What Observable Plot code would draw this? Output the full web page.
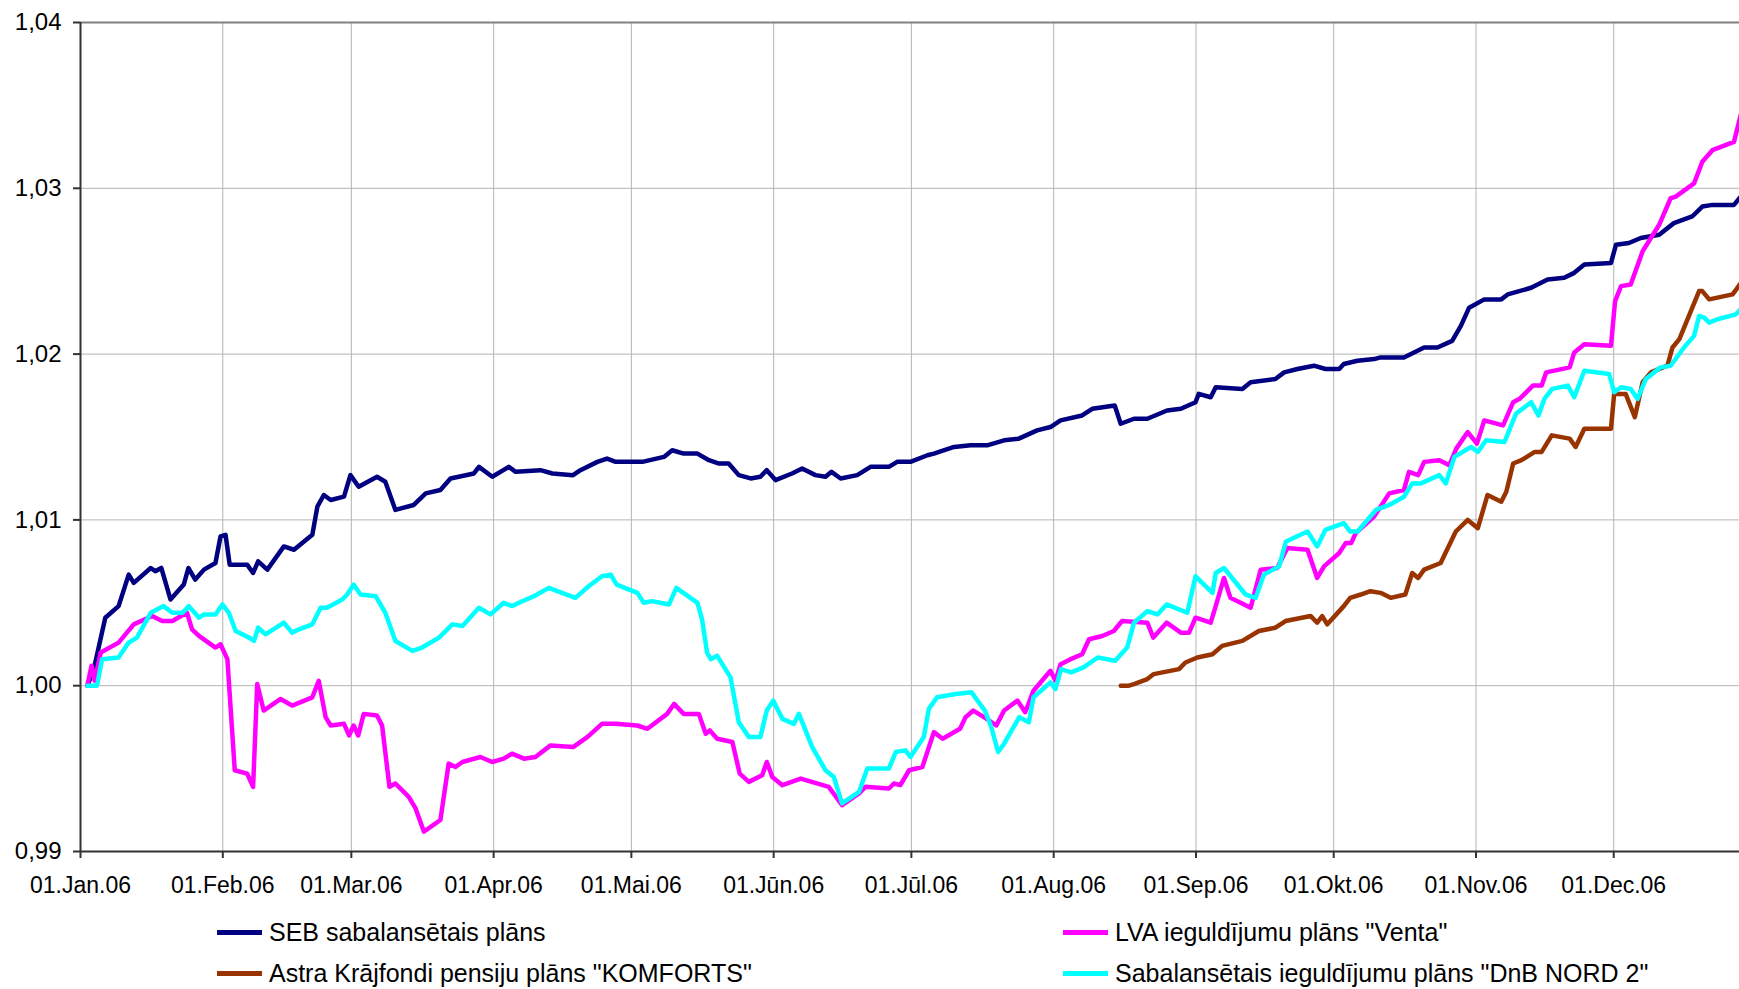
<!DOCTYPE html>
<html><head><meta charset="utf-8">
<script src="https://cdn.jsdelivr.net/npm/d3@7"></script>
<script src="https://cdn.jsdelivr.net/npm/@observablehq/plot@0.6"></script>
<style>
html,body{margin:0;padding:0;background:#fff;overflow:hidden;}
#chart{position:relative;width:1739px;height:989px;font-family:"Liberation Sans",Arial,sans-serif;}
#legend{position:absolute;left:0;top:905px;width:1739px;height:84px;}
.item{position:absolute;display:flex;align-items:center;height:30px;font-size:25px;color:#000;white-space:nowrap;}
.swatch{width:45px;height:5px;margin-right:7px;}
</style></head><body>
<div id="chart"><div id="plot"></div><div id="legend"></div></div>
<script>
// day offsets from 01.Jan.2006, fund unit value index
const seb = [[1.5,1.0000],[2.9,1.0010],[5.4,1.0041],[8.3,1.0048],[10.5,1.0067],[11.6,1.0062],[15.3,1.0071],[16.3,1.0069],[17.6,1.0071],[19.6,1.0052],[22.5,1.0061],[23.5,1.0071],[25,1.0064],[26.9,1.0070],[29.4,1.0074],[30.5,1.0090],[31.6,1.0091],[32.5,1.0073],[36.3,1.0073],[37.6,1.0068],[38.7,1.0075],[40.7,1.0070],[44.3,1.0084],[46.5,1.0082],[50.5,1.0091],[51.6,1.0108],[53,1.0115],[54.5,1.0112],[57.4,1.0114],[58.8,1.0127],[60.6,1.0120],[64.6,1.0126],[66.4,1.0123],[68.6,1.0106],[72.6,1.0109],[75.2,1.0116],[78.4,1.0118],[80.6,1.0125],[85.7,1.0128],[86.8,1.0132],[89.7,1.0126],[93.3,1.0132],[94.8,1.0129],[100.2,1.0130],[102.8,1.0128],[107.3,1.0127],[108.9,1.0130],[112.6,1.0135],[114.7,1.0137],[116.6,1.0135],[122.4,1.0135],[127.1,1.0138],[128.9,1.0142],[131.4,1.0140],[134.4,1.0140],[136.9,1.0136],[139.1,1.0134],[141.2,1.0134],[143.4,1.0127],[146,1.0125],[148.1,1.0126],[149.5,1.0130],[151.4,1.0124],[155,1.0128],[157.2,1.0131],[160.1,1.0127],[162.3,1.0126],[163.6,1.0129],[165.6,1.0125],[169.2,1.0127],[172.1,1.0132],[176.1,1.0132],[177.9,1.0135],[180.8,1.0135],[184.5,1.0139],[185.9,1.0140],[190.3,1.0144],[193.9,1.0145],[197.5,1.0145],[201.2,1.0148],[204.4,1.0149],[208.4,1.0154],[211.3,1.0156],[213.5,1.0160],[218.2,1.0163],[220.4,1.0167],[225.3,1.0169],[226.6,1.0158],[229.5,1.0161],[232.4,1.0161],[236.7,1.0166],[239.7,1.0167],[242.9,1.0171],[243.6,1.0176],[246.2,1.0174],[247.3,1.0180],[253.1,1.0179],[254.9,1.0183],[260.3,1.0185],[262.2,1.0189],[265.1,1.0191],[268.7,1.0193],[271.2,1.0191],[274.2,1.0191],[275.2,1.0194],[278.2,1.0196],[281.8,1.0197],[283.2,1.0198],[288.3,1.0198],[292.7,1.0204],[295.6,1.0204],[298.8,1.0208],[300.7,1.0217],[302.5,1.0228],[305.8,1.0233],[309.5,1.0233],[310.9,1.0236],[316,1.0240],[319.6,1.0245],[323.2,1.0246],[325.4,1.0249],[327.6,1.0254],[333.4,1.0255],[334.5,1.0266],[337.3,1.0267],[339.9,1.0270],[343.9,1.0272],[347.1,1.0279],[351.1,1.0283],[353.3,1.0289],[355.5,1.0290],[360.2,1.0290],[362,1.0296]];
const lva = [[1.5,1.0000],[2.4,1.0012],[3.1,1.0003],[4.4,1.0020],[8.3,1.0026],[11.6,1.0037],[15.6,1.0042],[17.8,1.0039],[20,1.0039],[23.2,1.0044],[24.3,1.0034],[25.8,1.0030],[29.4,1.0023],[30.5,1.0025],[32,1.0016],[33.6,0.9949],[36.3,0.9947],[37.6,0.9939],[38.5,1.0001],[39.9,0.9985],[43.6,0.9992],[46.1,0.9988],[50.5,0.9993],[51.9,1.0003],[53.4,0.9981],[54.5,0.9976],[57.4,0.9977],[58.5,0.9970],[59.5,0.9976],[60.5,0.9970],[61.7,0.9983],[64.6,0.9982],[65.7,0.9976],[67.3,0.9939],[68.6,0.9941],[71.5,0.9933],[73,0.9926],[74.8,0.9912],[78.4,0.9919],[80.2,0.9953],[81.7,0.9951],[83.2,0.9954],[87.1,0.9957],[89.7,0.9954],[92.2,0.9956],[94,0.9959],[96.6,0.9956],[99.1,0.9957],[102.4,0.9964],[107.3,0.9963],[110.4,0.9969],[113.6,0.9977],[116.6,0.9977],[121.3,0.9976],[123.5,0.9974],[127.8,0.9983],[129.3,0.9989],[131.4,0.9983],[134.7,0.9983],[136.2,0.9971],[137.1,0.9973],[138.7,0.9968],[142,0.9966],[143.6,0.9947],[145.6,0.9942],[148.5,0.9946],[149.5,0.9954],[150.7,0.9945],[152.9,0.9940],[156.9,0.9944],[163,0.9939],[165.9,0.9928],[169.6,0.9935],[171,0.9939],[176.1,0.9938],[177.2,0.9941],[178.6,0.9940],[180.5,0.9949],[183.4,0.9951],[185.9,0.9972],[187.8,0.9968],[191.6,0.9974],[192.8,0.9981],[194.5,0.9985],[197.4,0.9980],[199.5,0.9976],[201.2,0.9985],[204.1,0.9991],[205.8,0.9984],[207.6,0.9997],[211.3,1.0009],[212.4,1.0003],[213.5,1.0013],[215.7,1.0016],[218.2,1.0019],[219.7,1.0028],[222.6,1.0030],[225.1,1.0033],[226.9,1.0039],[232.4,1.0038],[233.7,1.0029],[236.6,1.0038],[239.7,1.0032],[241.5,1.0032],[242.9,1.0041],[246.2,1.0038],[247.3,1.0048],[249.1,1.0065],[250.5,1.0053],[254.9,1.0047],[257.1,1.0070],[260.7,1.0071],[262.9,1.0083],[267.3,1.0082],[269.4,1.0065],[270.9,1.0072],[274.2,1.0080],[275.6,1.0086],[276.8,1.0086],[277.8,1.0092],[281.8,1.0102],[285.1,1.0116],[288.3,1.0118],[289.4,1.0129],[291.4,1.0127],[292.7,1.0135],[296,1.0136],[298.2,1.0133],[299.7,1.0143],[302.2,1.0153],[304.2,1.0146],[305.8,1.0160],[309.9,1.0157],[312.1,1.0171],[313.5,1.0173],[316.4,1.0181],[318.3,1.0181],[319.3,1.0189],[324.4,1.0192],[325.4,1.0201],[327.6,1.0206],[333.4,1.0205],[334.3,1.0232],[335.6,1.0241],[337.7,1.0242],[340.3,1.0262],[343.9,1.0278],[346.4,1.0294],[347.5,1.0295],[351.5,1.0303],[353.3,1.0316],[355.5,1.0323],[360.2,1.0328],[362,1.0348]];
const astra = [[226.6,1.0000],[228.4,1.0000],[229.5,1.0001],[232.4,1.0004],[233.8,1.0007],[239.3,1.0010],[240.7,1.0014],[243.3,1.0017],[246.6,1.0019],[248.7,1.0024],[253.1,1.0027],[256.7,1.0033],[260.3,1.0035],[262.5,1.0039],[268,1.0042],[269.4,1.0038],[270.5,1.0042],[271.6,1.0037],[275.2,1.0048],[276.6,1.0053],[278.9,1.0055],[281,1.0057],[283.2,1.0056],[285.4,1.0053],[288.6,1.0055],[290.1,1.0068],[291.4,1.0065],[292.7,1.0070],[296.3,1.0074],[299.6,1.0093],[302.2,1.0100],[304.4,1.0095],[306.5,1.0115],[309.5,1.0111],[310.6,1.0117],[312.1,1.0134],[313.9,1.0136],[316.8,1.0141],[318.3,1.0141],[320.5,1.0151],[324.4,1.0149],[325.7,1.0144],[327.6,1.0155],[333.4,1.0155],[334.1,1.0176],[336.6,1.0176],[338.6,1.0162],[340.3,1.0183],[342.1,1.0189],[345.7,1.0193],[346.8,1.0204],[348.3,1.0209],[352.6,1.0238],[353.3,1.0238],[354.8,1.0233],[359.9,1.0236],[362,1.0244]];
const dnb = [[1.5,1.0000],[3.6,1.0000],[4.7,1.0016],[8.3,1.0017],[10.5,1.0026],[12.3,1.0029],[15.3,1.0044],[18.1,1.0048],[20,1.0044],[22.2,1.0044],[23.6,1.0048],[25.8,1.0041],[26.9,1.0043],[29.4,1.0043],[30.9,1.0049],[32.3,1.0044],[33.8,1.0033],[36.7,1.0029],[37.8,1.0027],[38.7,1.0035],[40.3,1.0031],[44.3,1.0038],[46.1,1.0032],[47.6,1.0034],[50.5,1.0037],[52.3,1.0047],[53.7,1.0047],[57,1.0052],[58.1,1.0055],[59.5,1.0061],[61,1.0055],[64.3,1.0054],[66.4,1.0044],[68.6,1.0027],[72.3,1.0021],[74.4,1.0023],[78.1,1.0029],[81,1.0037],[83.2,1.0036],[86.8,1.0047],[89.3,1.0043],[92.2,1.0050],[94,1.0048],[95.5,1.0050],[98.8,1.0054],[102,1.0059],[107.8,1.0053],[110.7,1.0060],[113.6,1.0066],[115.5,1.0067],[116.8,1.0061],[121.3,1.0056],[122.7,1.0050],[124.5,1.0051],[128.2,1.0049],[129.8,1.0059],[134.4,1.0050],[135.4,1.0040],[136.5,1.0020],[137.3,1.0016],[138.7,1.0018],[141.6,1.0005],[143.4,0.9978],[145.6,0.9969],[148.1,0.9969],[149.5,0.9985],[150.9,0.9991],[152.9,0.9980],[155.4,0.9977],[156.5,0.9983],[159.4,0.9963],[162.3,0.9949],[164.1,0.9945],[165.9,0.9929],[169.6,0.9936],[171.4,0.9950],[176.1,0.9950],[177.6,0.9960],[179.7,0.9961],[180.8,0.9957],[183.7,0.9969],[184.8,0.9986],[186.6,0.9993],[190.7,0.9995],[194.1,0.9996],[197,0.9985],[198.3,0.9976],[199.9,0.9960],[201.2,0.9965],[204.5,0.9981],[206.6,0.9978],[207.6,0.9993],[211.3,1.0002],[212.4,0.9998],[213.6,1.0010],[215.8,1.0008],[218.5,1.0011],[221.6,1.0017],[225.4,1.0015],[228,1.0023],[229.5,1.0038],[232.4,1.0045],[234.6,1.0043],[236.6,1.0049],[241.1,1.0044],[242.9,1.0066],[246.6,1.0056],[247.3,1.0068],[249.1,1.0071],[253.8,1.0055],[256,1.0053],[257.8,1.0067],[261.1,1.0072],[262.6,1.0087],[267.3,1.0093],[269.4,1.0084],[271.2,1.0094],[275.2,1.0098],[276.6,1.0093],[278.2,1.0093],[282.2,1.0106],[285.1,1.0109],[288.3,1.0114],[290.1,1.0122],[292,1.0122],[296,1.0127],[297.4,1.0122],[299.3,1.0138],[302.9,1.0144],[304.4,1.0141],[306.2,1.0148],[310.2,1.0147],[312.7,1.0164],[316,1.0171],[317.6,1.0163],[318.9,1.0173],[320.6,1.0179],[324,1.0181],[325.4,1.0174],[327.6,1.0190],[333,1.0188],[334.1,1.0177],[335.6,1.0180],[337.7,1.0179],[339.2,1.0173],[341,1.0185],[344.2,1.0192],[346.4,1.0193],[349.3,1.0204],[351.5,1.0211],[352.6,1.0223],[353.7,1.0222],[354.8,1.0219],[356.6,1.0221],[360.6,1.0224],[362,1.0228]];

const seriesNames = ["SEB sabalansētais plāns", "LVA ieguldījumu plāns \"Venta\"", "Astra Krājfondi pensiju plāns \"KOMFORTS\"", "Sabalansētais ieguldījumu plāns \"DnB NORD 2\""];
const seriesColors = ["#000080", "#FF00FF", "#993300", "#00FFFF"];
const monthLabels = ["Jan","Feb","Mar","Apr","Mai","Jūn","Jūl","Aug","Sep","Okt","Nov","Dec"];
const yTicks = [0.99, 1.00, 1.01, 1.02, 1.03, 1.04];
const xEndDay = 361.4;

const t0 = Date.UTC(2006, 0, 1);
const toDate = d => new Date(t0 + d * 864e5);
const allData = [seb, lva, astra, dnb];
const rows = [];
allData.forEach((s, i) => s.forEach(([d, v]) => rows.push({series: seriesNames[i], date: toDate(d), value: v})));
const monthTicks = d3.range(12).map(m => new Date(Date.UTC(2006, m, 1)));

const lineMarks = seriesNames.map((name, i) =>
  Plot.line(rows.filter(r => r.series === name), {x: "date", y: "value", stroke: seriesColors[i], strokeWidth: 4.5, clip: true, strokeLinejoin: "round"})
);

const chart = Plot.plot({
  width: 1739,
  height: 905,
  marginLeft: 80,
  marginRight: 0,
  marginTop: 22,
  marginBottom: 54,
  style: {fontFamily: "Liberation Sans, Arial, sans-serif", fontSize: "23px", background: "#fff", color: "#000"},
  x: {type: "utc", domain: [toDate(0), toDate(xEndDay)]},
  y: {domain: [0.99, 1.04]},
  marks: [
    Plot.gridY(yTicks, {stroke: "#b4b4b4", strokeOpacity: 1, strokeWidth: 1}),
    Plot.gridX(monthTicks.slice(1), {stroke: "#b4b4b4", strokeOpacity: 1, strokeWidth: 1}),
    Plot.ruleY([1.04], {stroke: "#808080", strokeWidth: 2}),
    ...lineMarks,
    Plot.ruleX([toDate(0)], {stroke: "#333", strokeWidth: 2}),
    Plot.ruleY([0.99], {stroke: "#333", strokeWidth: 2}),
    Plot.axisY(yTicks, {anchor: "left", tickSize: 7, tickPadding: 12, fontSize: 24, stroke: "#333", strokeWidth: 2, tickFormat: d => d.toFixed(2).replace(".", ","), label: null}),
    Plot.axisX(monthTicks, {anchor: "bottom", tickSize: 7, tickPadding: 18, fontSize: 23, stroke: "#333", strokeWidth: 2, tickFormat: d => "01." + monthLabels[d.getUTCMonth()] + "." + String(d.getUTCFullYear()).slice(2), label: null})
  ]
});
document.getElementById("plot").appendChild(chart);

const legendPos = [[217, 12], [1063, 12], [217, 53], [1063, 53]];
const legend = document.getElementById("legend");
seriesNames.forEach((name, i) => {
  const item = document.createElement("div");
  item.className = "item";
  item.style.left = legendPos[i][0] + "px";
  item.style.top = legendPos[i][1] + "px";
  const sw = document.createElement("span");
  sw.className = "swatch";
  sw.style.background = seriesColors[i];
  const tx = document.createElement("span");
  tx.textContent = name;
  item.appendChild(sw);
  item.appendChild(tx);
  legend.appendChild(item);
});
</script>
</body></html>
